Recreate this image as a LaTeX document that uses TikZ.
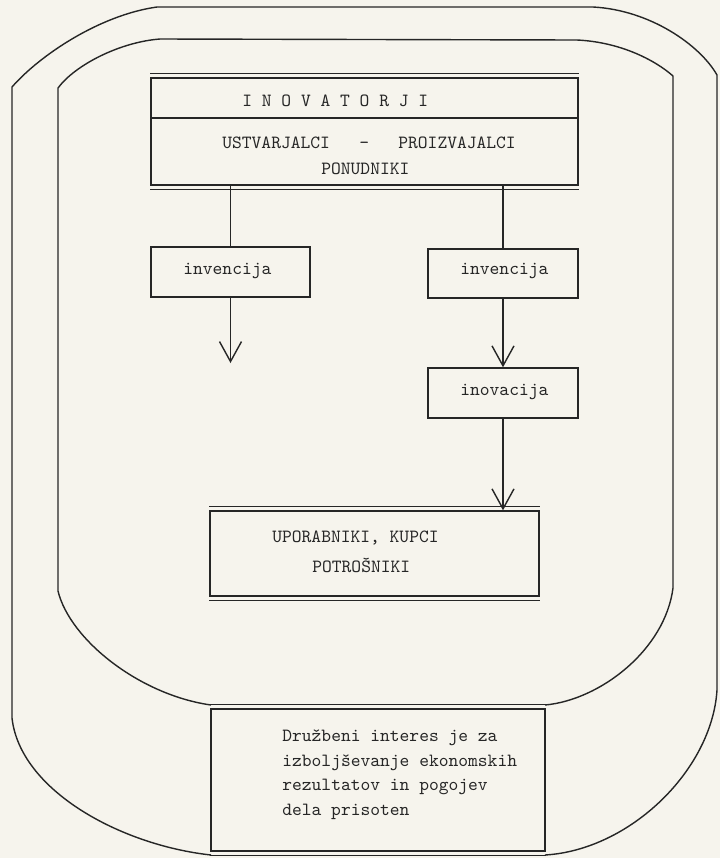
\documentclass[tikz,border=0pt]{standalone}
\usepackage{fontspec}
\usepackage{tikz}
\usetikzlibrary{arrows.meta,backgrounds,fit}
\definecolor{paper}{RGB}{246,244,237}
\definecolor{ink}{RGB}{38,38,38}
\tikzset{
  con/.style={draw=ink, line width=0.8pt},
  frame/.style={con, inner sep=0pt},
  arr/.style={con, -{Straight Barb[length=4mm,width=4.4mm]}},
  lbl/.style={text=ink, inner sep=0pt, anchor=base west, font=\fontsize{10.6}{14}\selectfont\ttfamily}
}
\newcommand\dbl[1]{%
  \draw[con] ([yshift=0.8mm]#1.north west) -- ([yshift=0.8mm]#1.north east);
  \draw[con] ([yshift=-0.8mm]#1.south west) -- ([yshift=-0.8mm]#1.south east);}

\begin{document}
\begin{tikzpicture}[x=0.2mm,y=-0.2mm]
\useasboundingbox (0,0) rectangle (720,858);
\fill[paper] (0,0) rectangle (720,858);

\draw[con] (211,855) .. controls (120,845) and (20,790) .. (12,718) -- (12,87)
  .. controls (40,55) and (100,15) .. (157,7) -- (593,7)
  .. controls (650,10) and (700,45) .. (717,75) -- (717,690)
  .. controls (712,770) and (630,850) .. (545,855);
\draw[con] (211,705) .. controls (140,695) and (70,640) .. (58,591) -- (58,88)
  .. controls (75,65) and (120,42) .. (160,39) -- (577,40)
  .. controls (620,42) and (655,60) .. (673,76) -- (673,588)
  .. controls (665,650) and (600,700) .. (545,705);

\node[frame, fit={(151,78) (578,185)}] (inov) {};
\dbl{inov}
\coordinate (delitev) at (0,118);
\draw[con] (inov.west |- delitev) -- (inov.east |- delitev);
\node[lbl] (naslov) at (242,106) {I N O V A T O R J I};
\node[lbl] (ustv) at (222,148) {USTVARJALCI~~~-~~~PROIZVAJALCI};
\node[lbl] (ponud) at (321,174) {PONUDNIKI};

\node[frame, fit={(151,247) (310,297)}] (inv1) {};
\node[lbl] at (183,274) {invencija};
\node[frame, fit={(428,249) (578,298)}] (inv2) {};
\node[lbl] at (460,274) {invencija};
\node[frame, fit={(428,368) (578,418)}] (inovac) {};
\node[lbl] at (460,395) {inovacija};

\node[frame, fit={(210,511) (539,596)}] (upor) {};
\dbl{upor}
\node[lbl] at (272,542) {UPORABNIKI, KUPCI};
\node[lbl] at (312,572) {POTROŠNIKI};

\node[frame, fit={(211,709) (545,851)}] (interes) {};
\dbl{interes}
\foreach \vrst/\yy in {Družbeni interes je za/741, izboljševanje ekonomskih/766,
  rezultatov in pogojev/790, dela prisoten/815}
  \node[lbl] at (282,\yy) {\vrst};

\coordinate (lkonec) at (230.5,363);
\draw[con] (inv1.north |- inov.south) -- (inv1.north);
\draw[con] (inv2.north |- inov.south) -- (inv2.north);
\draw[arr] (inv1.south) -- (lkonec);
\draw[arr] (inv2.south) -- (inovac.north);
\draw[arr] (inovac.south) -- (inovac.south |- upor.north);
\end{tikzpicture}
\end{document}
